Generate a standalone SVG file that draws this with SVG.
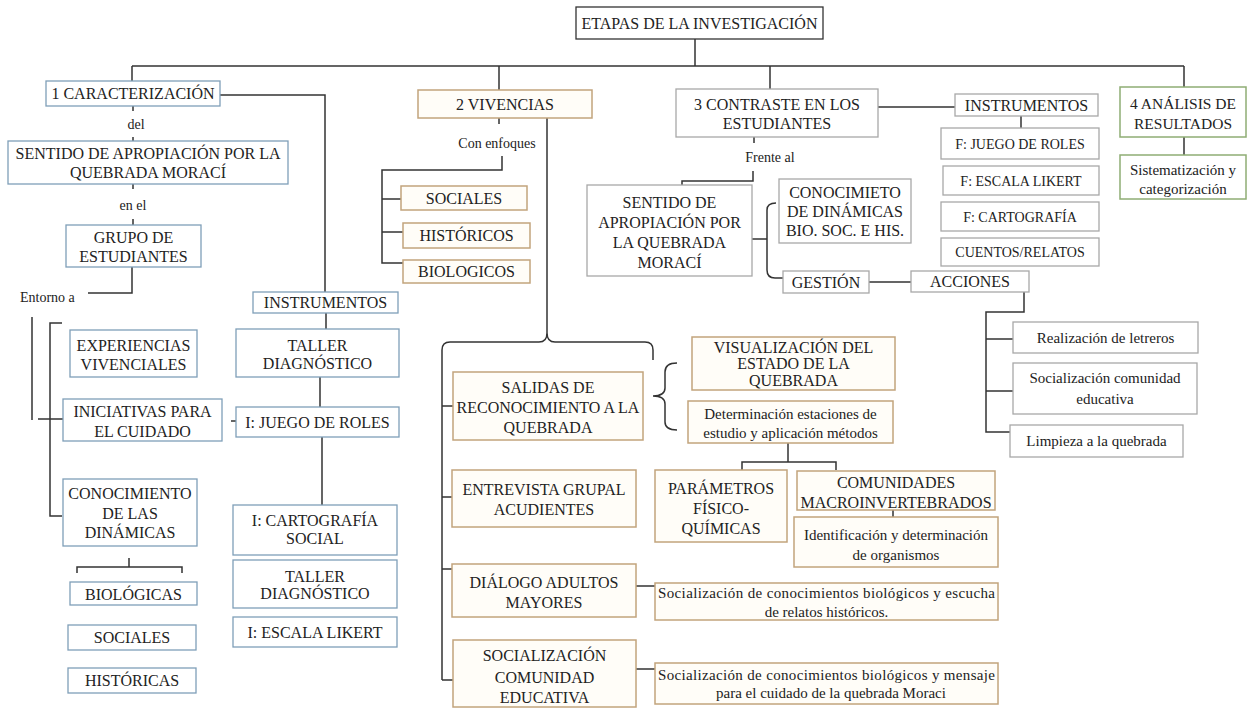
<svg xmlns="http://www.w3.org/2000/svg" width="1247" height="709" viewBox="0 0 1247 709">
<style>
rect{stroke-width:1.3}
.b0{fill:#fff;stroke:#333}
.b1{fill:#fff;stroke:#7f9fb8}
.b2{fill:#fffdf8;stroke:#c2a47c;stroke-width:1.5}
.b3{fill:#fff;stroke:#a8a8a8}
.b4{fill:#fff;stroke:#8fad74;stroke-width:1.5}
text{font-family:"Liberation Serif","Times New Roman",serif;fill:#222;text-anchor:middle;font-size:16px}
.s{font-size:14px}
.p{font-size:15px}
.l{text-anchor:start}
.c{fill:none;stroke:#333;stroke-width:1.5}
</style>
<rect width="1247" height="709" fill="#fff"/>
<g id="connectors" class="c">
<path d="M695,39V66M132,66H1184M132,66V81M499,66V90M770,66V89M1184,66V87"/>
<path d="M133,106V111M133,137V141M133,184V189M133,219V225M132,267V293H88"/>
<path d="M32,317V420M62,323H50V516H62M38,419H63"/>
<path d="M77,573V567H182V573M129,558V567"/>
<path d="M220,95H325V292M326,313V329M320,377V407M322,437V505M231,421H236"/>
<path d="M499,118V124M502,156V170H382V263H403M382,199H401M382,232H403"/>
<path d="M547,118V333"/>
<path d="M653,360V350Q653,342 645,342H555Q547,342 547,333Q547,342 539,342H450Q442,342 442,350V680"/>
<path d="M442,406H453M442,497H452M442,569H452M442,680H453"/>
<path d="M677,363Q665,363 665,372V388Q665,396 653,396Q665,396 665,404V422Q665,430 677,430"/>
<path d="M788,443V462M742,470V462H836V470M893,510V517M636,586H655M636,669H655"/>
<path d="M878,107H955M1021,116V128M1184,137V155M754,137V143M753,171V181H682V185"/>
<path d="M752,239H767M776,203Q767,203 767,210V270Q767,278 775,278H783"/>
<path d="M869,282H911M1024,292V312H986V432H1010M986,339H1013M986,391H1013"/>
</g>
<g id="root"><rect class="b0" x="576" y="7" width="247" height="32"/><text x="699.5" y="28.5">ETAPAS DE LA INVESTIGACIÓN</text></g>
<g id="lbl-del"><text class="s" x="136" y="129">del</text></g>
<g id="lbl-enel"><text class="s" x="133" y="210">en el</text></g>
<g id="lbl-entorno"><text class="s l" x="20" y="302">Entorno a</text></g>
<g id="lbl-enfoques"><text class="s" x="497" y="148">Con enfoques</text></g>
<g id="lbl-frente"><text class="s" x="770" y="162">Frente al</text></g>
<g id="n1"><rect class="b1" x="46" y="81" width="174" height="25"/><text x="133" y="99">1 CARACTERIZACIÓN</text></g>
<g id="n1-sentido"><rect class="b1" x="8" y="141" width="280" height="43"/><text x="148" y="158.5">SENTIDO DE APROPIACIÓN POR LA</text><text x="148" y="177.5">QUEBRADA MORACÍ</text></g>
<g id="n1-grupo"><rect class="b1" x="66" y="225" width="135" height="42"/><text x="133.5" y="242.5">GRUPO DE</text><text x="133.5" y="261.5">ESTUDIANTES</text></g>
<g id="n1-exp"><rect class="b1" x="70" y="330" width="127" height="47"/><text x="133.5" y="350.5">EXPERIENCIAS</text><text x="133.5" y="369.5">VIVENCIALES</text></g>
<g id="n1-ini"><rect class="b1" x="63" y="399" width="159" height="42"/><text x="142.5" y="416.5">INICIATIVAS PARA</text><text x="142.5" y="436.5">EL CUIDADO</text></g>
<g id="n1-con"><rect class="b1" x="63" y="479" width="134" height="67"/><text x="130" y="498.5">CONOCIMIENTO</text><text x="130" y="518.5">DE LAS</text><text x="130" y="537.5">DINÁMICAS</text></g>
<g id="n1-bio"><rect class="b1" x="70" y="582" width="127" height="23"/><text x="133.5" y="599.5">BIOLÓGICAS</text></g>
<g id="n1-soc"><rect class="b1" x="68" y="625" width="128" height="25"/><text x="132" y="643">SOCIALES</text></g>
<g id="n1-his"><rect class="b1" x="68" y="668" width="128" height="25"/><text x="132" y="686">HISTÓRICAS</text></g>
<g id="n1-inst"><rect class="b1" x="253" y="292" width="145" height="21"/><text x="325.5" y="308">INSTRUMENTOS</text></g>
<g id="n1-taller"><rect class="b1" x="236" y="329" width="163" height="48"/><text x="317.5" y="350.5">TALLER</text><text x="317.5" y="368.5">DIAGNÓSTICO</text></g>
<g id="n1-juego"><rect class="b1" x="236" y="407" width="163" height="30"/><text x="317.5" y="427.5">I: JUEGO DE ROLES</text></g>
<g id="n1-carto"><rect class="b1" x="233" y="505" width="164" height="50"/><text x="315" y="525.5">I: CARTOGRAFÍA</text><text x="315" y="543.5">SOCIAL</text></g>
<g id="n1-taller2"><rect class="b1" x="233" y="560" width="164" height="48"/><text x="315" y="581.5">TALLER</text><text x="315" y="598.5">DIAGNÓSTICO</text></g>
<g id="n1-likert"><rect class="b1" x="233" y="617" width="164" height="30"/><text x="315" y="637.5">I: ESCALA LIKERT</text></g>
<g id="n2"><rect class="b2" x="418" y="90" width="174" height="28"/><text x="505" y="109.5">2 VIVENCIAS</text></g>
<g id="n2-soc"><rect class="b2" x="401" y="186" width="126" height="24"/><text x="464" y="203.5">SOCIALES</text></g>
<g id="n2-his"><rect class="b2" x="403" y="223" width="127" height="25"/><text x="466.5" y="241">HISTÓRICOS</text></g>
<g id="n2-bio"><rect class="b2" x="403" y="260" width="127" height="23"/><text x="466.5" y="277">BIOLOGICOS</text></g>
<g id="n2-salidas"><rect class="b2" x="453" y="372" width="190" height="68"/><text x="548" y="392.5">SALIDAS DE</text><text x="548" y="412.5">RECONOCIMIENTO A LA</text><text x="548" y="432.5">QUEBRADA</text></g>
<g id="n2-entrevista"><rect class="b2" x="452" y="470" width="184" height="57"/><text x="544" y="494.5">ENTREVISTA GRUPAL</text><text x="544" y="514.5">ACUDIENTES</text></g>
<g id="n2-dialogo"><rect class="b2" x="452" y="564" width="184" height="53"/><text x="544" y="587.5">DIÁLOGO ADULTOS</text><text x="544" y="607.5">MAYORES</text></g>
<g id="n2-socializ"><rect class="b2" x="453" y="640" width="183" height="67"/><text x="544.5" y="660.5">SOCIALIZACIÓN</text><text x="544.5" y="682.5">COMUNIDAD</text><text x="544.5" y="702.5">EDUCATIVA</text></g>
<g id="n2-visual"><rect class="b2" x="692" y="337" width="203" height="53"/><text x="793.5" y="352.5">VISUALIZACIÓN DEL</text><text x="793.5" y="369">ESTADO DE LA</text><text x="793.5" y="385.5">QUEBRADA</text></g>
<g id="n2-determ"><rect class="b2" x="688" y="401" width="205" height="42"/><text class="p" x="790.5" y="419">Determinación estaciones de</text><text class="p" x="790.5" y="438">estudio y aplicación métodos</text></g>
<g id="n2-param"><rect class="b2" x="655" y="470" width="132" height="72"/><text x="721" y="493.5">PARÁMETROS</text><text x="721" y="513.5">FÍSICO-</text><text x="721" y="533.5">QUÍMICAS</text></g>
<g id="n2-comun"><rect class="b2" x="797" y="471" width="198" height="39"/><text x="896" y="487.5">COMUNIDADES</text><text x="896" y="507.5">MACROINVERTEBRADOS</text></g>
<g id="n2-ident"><rect class="b2" x="794" y="517" width="204" height="50"/><text class="p" x="896" y="540">Identificación y determinación</text><text class="p" x="896" y="560">de organismos</text></g>
<g id="n2-soc1"><rect class="b2" x="655" y="583" width="343" height="37"/><text class="p l" x="658" y="598" textLength="337" lengthAdjust="spacing">Socialización de conocimientos biológicos y escucha</text><text class="p" x="826.5" y="617">de relatos históricos.</text></g>
<g id="n2-soc2"><rect class="b2" x="655" y="663" width="343" height="41"/><text class="p l" x="658" y="680" textLength="337" lengthAdjust="spacing">Socialización de conocimientos biológicos y mensaje</text><text class="p" x="831" y="698">para el cuidado de la quebrada Moraci</text></g>
<g id="n3"><rect class="b3" x="676" y="89" width="202" height="48"/><text x="777" y="109.5">3 CONTRASTE EN LOS</text><text x="777" y="128.5">ESTUDIANTES</text></g>
<g id="n3-sentido"><rect class="b3" x="587" y="185" width="165" height="91"/><text x="669.5" y="207.5">SENTIDO DE</text><text x="669.5" y="227.5">APROPIACIÓN POR</text><text x="669.5" y="247.5">LA QUEBRADA</text><text x="669.5" y="267.5">MORACÍ</text></g>
<g id="n3-conoc"><rect class="b3" x="779" y="179" width="132" height="64"/><text x="845" y="197.5">CONOCIMIETO</text><text x="845" y="216.5">DE DINÁMICAS</text><text x="845" y="235.5">BIO. SOC. E HIS.</text></g>
<g id="n3-gestion"><rect class="b3" x="783" y="271" width="86" height="22"/><text x="826" y="287.5">GESTIÓN</text></g>
<g id="n3-acciones"><rect class="b3" x="911" y="271" width="118" height="21"/><text x="970" y="287">ACCIONES</text></g>
<g id="n3-letreros"><rect class="b3" x="1013" y="322" width="185" height="31"/><text class="p" x="1105.5" y="342.5">Realización de letreros</text></g>
<g id="n3-socializ"><rect class="b3" x="1013" y="363" width="184" height="51"/><text class="p" x="1105" y="383">Socialización comunidad</text><text class="p" x="1105" y="404">educativa</text></g>
<g id="n3-limpieza"><rect class="b3" x="1010" y="425" width="173" height="32"/><text class="p" x="1096.5" y="446">Limpieza a la quebrada</text></g>
<g id="n3-inst"><rect class="b3" x="955" y="94" width="143" height="22"/><text x="1026.5" y="110.5">INSTRUMENTOS</text></g>
<g id="n3-juego"><rect class="b3" x="941" y="128" width="158" height="31"/><text class="s" x="1020" y="148.5">F: JUEGO DE ROLES</text></g>
<g id="n3-likert"><rect class="b3" x="943" y="166" width="156" height="29"/><text class="s" x="1021" y="185.5">F: ESCALA LIKERT</text></g>
<g id="n3-carto"><rect class="b3" x="941" y="202" width="158" height="29"/><text class="s" x="1020" y="221.5">F: CARTOGRAFÍA</text></g>
<g id="n3-cuentos"><rect class="b3" x="941" y="238" width="158" height="28"/><text class="s" x="1020" y="257">CUENTOS/RELATOS</text></g>
<g id="n4"><rect class="b4" x="1120" y="87" width="126" height="50"/><text x="1183" y="108.5" style="font-size:15.5px">4 ANÁLISIS DE</text><text x="1183" y="128.5" style="font-size:15.5px">RESULTADOS</text></g>
<g id="n4-sist"><rect class="b4" x="1120" y="155" width="126" height="44"/><text class="p" x="1183" y="175">Sistematización y</text><text class="p" x="1183" y="194">categorización</text></g>
</svg>
